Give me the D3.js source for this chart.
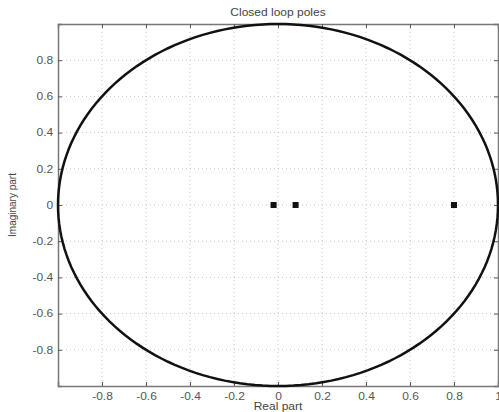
<!DOCTYPE html>
<html>
<head>
<meta charset="utf-8">
<script src="https://cdn.jsdelivr.net/npm/d3@7"></script>
<style>
  body { margin: 0; background: #fff; }
  text { font-family: "Liberation Sans", Arial, sans-serif; fill: #444; }
</style>
</head>
<body>
<div id="chart"></div>
<script>
const width = 499;
const height = 412;

// closed loop poles (real, imag)
const poleRe = [-0.02, 0.08, 0.8];
const poleIm = [0, 0, 0];
const xTicks = [-0.8, -0.6, -0.4, -0.2, 0, 0.2, 0.4, 0.6, 0.8, 1];
const yTicks = [-0.8, -0.6, -0.4, -0.2, 0, 0.2, 0.4, 0.6, 0.8];
const gridX = [-0.8, -0.6, -0.4, -0.2, 0, 0.2, 0.4, 0.6, 0.8];
const gridY = [-0.8, -0.6, -0.4, -0.2, 0, 0.2, 0.4, 0.6, 0.8];

// the original image is stretched sideways, so horizontal text gets a scale too
const stretch = 1.2;

const x = d3.scaleLinear().domain([-1, 1]).range([58, 498]);
const y = d3.scaleLinear().domain([-1, 1]).range([386, 24]);
const fmt = d => String(d);

const svg = d3.select("#chart").append("svg")
  .attr("width", width)
  .attr("height", height);

// grid
svg.append("g").selectAll("line")
  .data(gridX).enter().append("line")
  .attr("x1", d => x(d)).attr("x2", d => x(d))
  .attr("y1", y(1)).attr("y2", y(-1))
  .attr("stroke", "#c4c4c4").attr("stroke-width", 1)
  .attr("stroke-dasharray", "1,3");
svg.append("g").selectAll("line")
  .data(gridY).enter().append("line")
  .attr("x1", x(-1)).attr("x2", x(1))
  .attr("y1", d => y(d)).attr("y2", d => y(d))
  .attr("stroke", "#c4c4c4").attr("stroke-width", 1)
  .attr("stroke-dasharray", "1,3");

// axes (ticks pointing inward, like matlab)
const axBottom = svg.append("g")
  .attr("transform", "translate(0," + y(-1) + ")")
  .call(d3.axisBottom(x).tickValues(xTicks).tickSize(-4).tickPadding(7)
    .tickFormat(fmt));
const axTop = svg.append("g")
  .attr("transform", "translate(0," + y(1) + ")")
  .call(d3.axisTop(x).tickValues(xTicks).tickSize(-4).tickFormat(""));
const axLeft = svg.append("g")
  .attr("transform", "translate(" + x(-1) + ",0)")
  .call(d3.axisLeft(y).tickValues(yTicks).tickSize(-4).tickPadding(4)
    .tickFormat(fmt));
const axRight = svg.append("g")
  .attr("transform", "translate(" + x(1) + ",0)")
  .call(d3.axisRight(y).tickValues(yTicks).tickSize(-4).tickFormat(""));

[axBottom, axTop, axLeft, axRight].forEach(function (g) {
  g.selectAll(".domain").attr("stroke", "#777").attr("stroke-width", 1.5);
  g.selectAll(".tick line").attr("stroke", "#555");
  g.selectAll("text").style("font-size", "10px").style("fill", "#555")
    .style("font-family", "Liberation Sans, Arial, sans-serif")
    .attr("transform", "scale(" + stretch + ",1)");
});

// unit circle
const theta = d3.range(0, 361, 2).map(d => d * Math.PI / 180);
svg.append("path")
  .datum(theta)
  .attr("d", d3.line()
    .x(t => x(Math.cos(t)))
    .y(t => y(Math.sin(t))))
  .attr("fill", "none")
  .attr("stroke", "#111")
  .attr("stroke-width", 2.5);

// poles
svg.append("g").selectAll("rect")
  .data(poleRe).enter().append("rect")
  .attr("x", d => x(d) - 3)
  .attr("y", (d, i) => y(poleIm[i]) - 3)
  .attr("width", 6).attr("height", 6)
  .attr("fill", "#111");

// labels
svg.append("text")
  .attr("transform", "translate(" + x(0) + ",16) scale(" + stretch + ",1)")
  .attr("text-anchor", "middle")
  .style("font-size", "10px")
  .text("Closed loop poles");

svg.append("text")
  .attr("transform", "translate(" + x(0) + ",410) scale(" + stretch + ",1)")
  .attr("text-anchor", "middle")
  .style("font-size", "10px")
  .text("Real part");

svg.append("text")
  .attr("transform", "translate(16," + y(0) + ") rotate(-90)")
  .attr("text-anchor", "middle")
  .style("font-size", "10px")
  .text("Imaginary part");
</script>
</body>
</html>
